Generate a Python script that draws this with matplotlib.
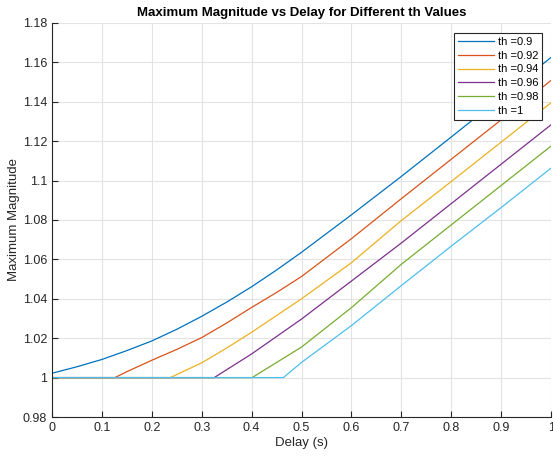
import matplotlib
matplotlib.use('Agg')
import matplotlib.pyplot as plt

plt.rcParams['font.family'] = ['Liberation Sans', 'DejaVu Sans']

# values (delay in s, maximum magnitude)
delay_09 = [0, 0.05, 0.1, 0.15, 0.2, 0.25, 0.3, 0.35, 0.4, 0.45, 0.5, 0.6, 0.7, 0.8, 0.9, 1.0]
mag_09 = [1.0022, 1.0055, 1.0092, 1.0137, 1.0186, 1.0245, 1.0311, 1.0383, 1.0461, 1.0546,
          1.0636, 1.0826, 1.1021, 1.1221, 1.1423, 1.1625]

delay_092 = [0, 0.126, 0.15, 0.2, 0.25, 0.3, 0.35, 0.4, 0.45, 0.5, 0.6, 0.7, 0.8, 0.9, 1.0]
mag_092 = [1.0, 1.0, 1.0030, 1.0088, 1.0143, 1.0203, 1.0277, 1.0356, 1.0432, 1.0513,
           1.0705, 1.0908, 1.1108, 1.1308, 1.1508]

delay_094 = [0, 0.237, 0.3, 0.35, 0.4, 0.5, 0.6, 0.7, 0.8, 0.9, 1.0]
mag_094 = [1.0, 1.0, 1.0075, 1.0150, 1.0230, 1.0400, 1.0583, 1.0797, 1.0995, 1.1195, 1.1395]

delay_096 = [0, 0.325, 0.4, 0.5, 0.6, 0.7, 0.8, 0.9, 1.0]
mag_096 = [1.0, 1.0, 1.0120, 1.0297, 1.0490, 1.0683, 1.0883, 1.1083, 1.1283]

delay_098 = [0, 0.401, 0.5, 0.6, 0.7, 0.8, 0.9, 1.0]
mag_098 = [1.0, 1.0, 1.0155, 1.0355, 1.0575, 1.0775, 1.0975, 1.1175]

delay_1 = [0, 0.4636, 0.5, 0.6, 0.7, 0.8, 0.9, 1.0]
mag_1 = [1.0, 1.0, 1.0077, 1.0264, 1.0467, 1.0667, 1.0863, 1.1063]

labels = ['th =0.9', 'th =0.92', 'th =0.94', 'th =0.96', 'th =0.98', 'th =1']
colors = ['#0072BD', '#D95319', '#EDB120', '#7E2F8E', '#77AC30', '#4DBEEE']

x_ticks = [0, 0.1, 0.2, 0.3, 0.4, 0.5, 0.6, 0.7, 0.8, 0.9, 1]
x_tick_labels = ['0', '0.1', '0.2', '0.3', '0.4', '0.5', '0.6', '0.7', '0.8', '0.9', '1']
y_ticks = [0.98, 1.0, 1.02, 1.04, 1.06, 1.08, 1.1, 1.12, 1.14, 1.16, 1.18]
y_tick_labels = ['0.98', '1', '1.02', '1.04', '1.06', '1.08', '1.1', '1.12', '1.14', '1.16', '1.18']

series = [(delay_09, mag_09), (delay_092, mag_092), (delay_094, mag_094),
          (delay_096, mag_096), (delay_098, mag_098), (delay_1, mag_1)]

fig = plt.figure(figsize=(5.53, 4.58), dpi=100)
ax = fig.add_axes([0.094, 0.0895, 0.9025, 0.8605])

for (x, y), lab, c in zip(series, labels, colors):
    ax.plot(x, y, color=c, linewidth=0.9, label=lab)

ax.set_xlim(0, 1)
ax.set_ylim(0.98, 1.18)
ax.set_xticks(x_ticks)
ax.set_xticklabels(x_tick_labels)
ax.set_yticks(y_ticks)
ax.set_yticklabels(y_tick_labels)

axis_color = '#262626'
ax.tick_params(direction='in', length=4, width=0.8, colors=axis_color, labelsize=9)
for side in ['top', 'right']:
    ax.spines[side].set_visible(False)
for side in ['left', 'bottom']:
    ax.spines[side].set_color(axis_color)
    ax.spines[side].set_linewidth(0.8)
ax.grid(True, color='#e3e3e3', linewidth=0.8)
ax.set_axisbelow(True)

ax.set_xlabel('Delay (s)', fontsize=9.5, color=axis_color, labelpad=2)
ax.set_ylabel('Maximum Magnitude', fontsize=9.5, color=axis_color, labelpad=2)
ax.set_title('Maximum Magnitude vs Delay for Different th Values',
             fontsize=9.5, fontweight='bold', color='black', pad=5)

leg = ax.legend(loc='upper right', fontsize=8, fancybox=False, framealpha=1,
                edgecolor=axis_color, borderpad=0.35, labelspacing=0.35,
                handlelength=3.3, handletextpad=0.3, borderaxespad=0,
                bbox_to_anchor=(0.982, 0.975))
leg.get_frame().set_linewidth(0.8)

fig.savefig('out.png', dpi=100)
